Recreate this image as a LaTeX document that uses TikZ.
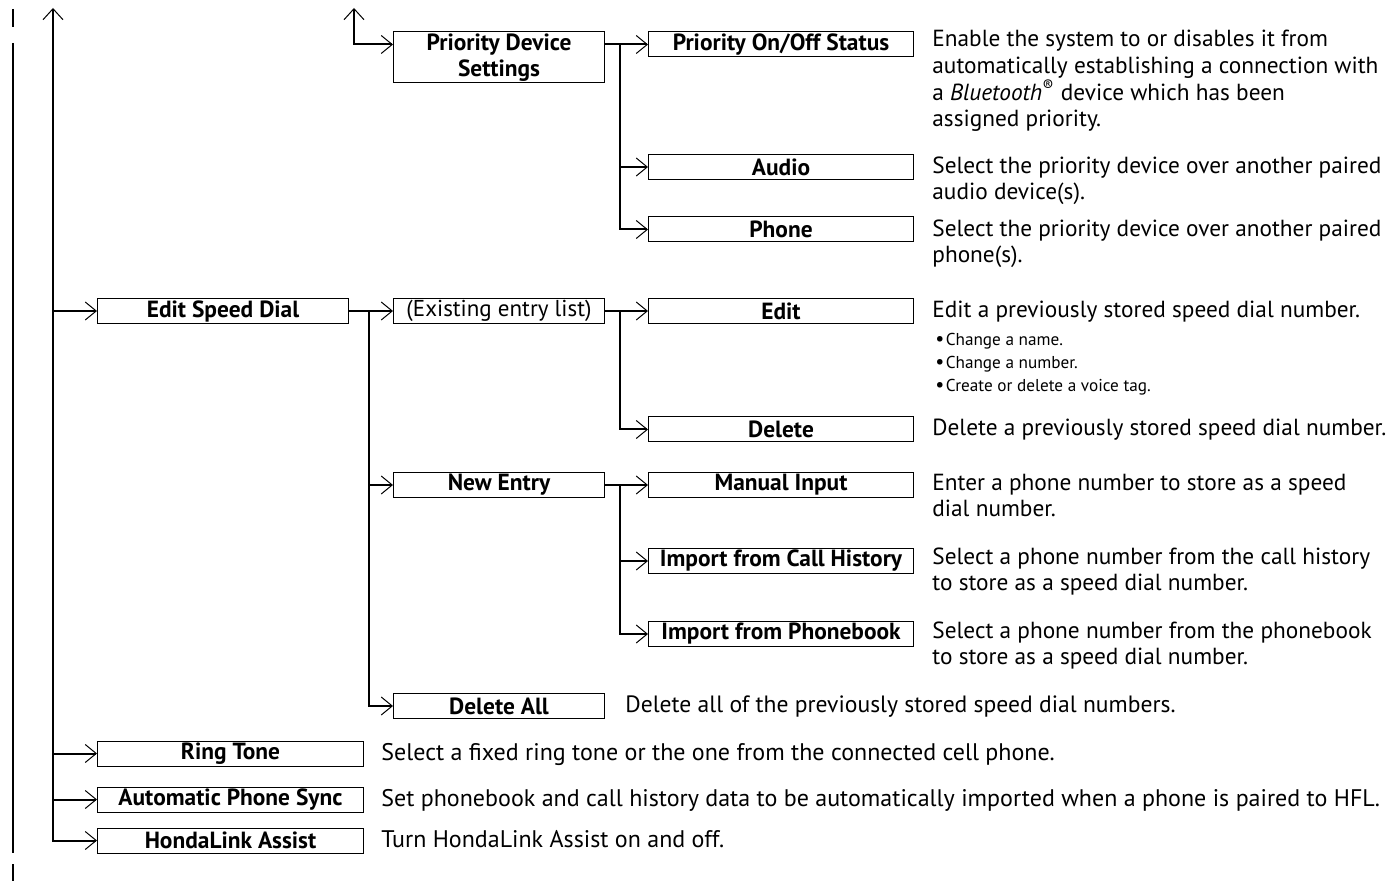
\documentclass[tikz,border=0pt]{standalone}
\usepackage{fontspec}
\setmainfont{PT Sans}
\usetikzlibrary{arrows.meta,positioning,calc}
\newcommand{\listdot}{\makebox[5.2pt][l]{\fontsize{10}{10}\selectfont\textbullet}}

\begin{document}
\begin{tikzpicture}[x=0.5pt,y=-0.5pt,
    link/.style={line width=1pt,-{Straight Barb[length=5.5pt,width=9pt,line width=0.5pt]}},
    twoway/.style={line width=1pt,{Straight Barb[length=5.5pt,width=10pt,line width=0.5pt]}-{Straight Barb[length=5.5pt,width=9pt,line width=0.5pt]}},
    menubox/.style={draw,line width=0.5pt,inner sep=0pt,minimum height=12.5pt,anchor=west,font=\bfseries\fontsize{11.7}{13.2}\selectfont},
    colone/.style={menubox,minimum width=133pt},
    coltwo/.style={menubox,minimum width=105.5pt},
    colthree/.style={menubox,minimum width=132.5pt},
    desc/.style={anchor=base west,align=left,inner sep=0pt,font=\fontsize{11.65}{13.35}\selectfont},
    widedesc/.style={desc,font=\fontsize{12}{13.35}\selectfont},
    bullets/.style={anchor=base west,align=left,inner sep=0pt,font=\fontsize{8.6}{11.5}\selectfont}]
    \useasboundingbox (0,0) rectangle (1387,881);
    % continuation bar on the left
    \draw[line width=1pt] (13,9) -- (13,27);
    \draw[line width=1pt] (13,43) -- (13,853);
    \draw[line width=1pt] (13,864) -- (13,881);
    % first level
    \node[colone,minimum width=125.5pt] (speeddial) at (97,311) {Edit Speed Dial};
    \node[colone] (ring) at (97,753.5) {Ring Tone};
    \node[colone] (autosync) at (97,799.5) {Automatic Phone Sync};
    \node[colone] (honda) at (97,840.5) {HondaLink Assist};
    % second level
    \node[coltwo,minimum height=25.5pt,align=center] (prio) at (393,57.5) {Priority Device\\Settings};
    \node[coltwo,font=\fontsize{11.5}{13}\selectfont] (existing) at (393,311) {(Existing entry list)};
    \node[coltwo] (newentry) at (393,485) {New Entry};
    \node[coltwo] (deleteall) at (393,706) {Delete All};
    % third level
    \node[colthree] (onoff) at (648,44.5) {Priority On/Off Status};
    \node[colthree] (audio) at (648,167) {Audio};
    \node[colthree] (phone) at (648,229.5) {Phone};
    \node[colthree] (edit) at (648,311) {Edit};
    \node[colthree] (delete) at (648,429.5) {Delete};
    \node[colthree] (manual) at (648,485) {Manual Input};
    \node[colthree] (callhist) at (648,561) {Import from Call History};
    \node[colthree] (phonebook) at (648,634) {Import from Phonebook};
    % bus coordinates
    \coordinate (top) at (53,8);
    \coordinate (prtop) at (354,8);
    \coordinate (pbus) at (620,44.5);
    \coordinate (sbus) at (369,311);
    \coordinate (ebus) at (620,311);
    \coordinate (nbus) at (620,485);
    % connectors
    \draw[twoway] (top) |- (honda.west);
    \draw[link] (top |- speeddial.west) -- (speeddial.west);
    \draw[link] (top |- ring.west) -- (ring.west);
    \draw[link] (top |- autosync.west) -- (autosync.west);
    \draw[twoway] (prtop) |- (prio.west |- onoff.west);
    \draw[link] (prio.east |- onoff.west) -- (onoff.west);
    \draw[link] (pbus) |- (audio.west);
    \draw[link] (pbus) |- (phone.west);
    \draw[link] (speeddial.east) -- (existing.west);
    \draw[link] (sbus) |- (newentry.west);
    \draw[link] (sbus) |- (deleteall.west);
    \draw[link] (existing.east) -- (edit.west);
    \draw[link] (ebus) |- (delete.west);
    \draw[link] (newentry.east) -- (manual.west);
    \draw[link] (nbus) |- (callhist.west);
    \draw[link] (nbus) |- (phonebook.west);
    % descriptions (base = last line)
    \node[desc] (onoffdesc) at (932,127) {Enable the system to or disables it from\\automatically establishing a connection with\\a \textit{Bluetooth}\textsuperscript{\textregistered} device which has been\\assigned priority.};
    \node[desc] (audiodesc) at (932,200) {Select the priority device over another paired\\audio device(s).};
    \node[desc] (phonedesc) at (932,263) {Select the priority device over another paired\\phone(s).};
    \node[desc] (editdesc) at (932,318) {Edit a previously stored speed dial number.};
    \node[bullets] (editlist) at (935,392) {\listdot Change a name.\\\listdot Change a number.\\\listdot Create or delete a voice tag.};
    \node[desc] (deletedesc) at (932,436) {Delete a previously stored speed dial number.};
    \node[desc] (manualdesc) at (932,517) {Enter a phone number to store as a speed\\dial number.};
    \node[desc] (callhistdesc) at (932,591) {Select a phone number from the call history\\to store as a speed dial number.};
    \node[desc] (phonebookdesc) at (932,665) {Select a phone number from the phonebook\\to store as a speed dial number.};
    \node[desc,font=\fontsize{11.8}{13.35}\selectfont] (deletealldesc) at (625,712) {Delete all of the previously stored speed dial numbers.};
    \node[widedesc] (ringdesc) at (381,760) {Select a fixed ring tone or the one from the connected cell phone.};
    \node[widedesc] (autosyncdesc) at (381,806) {Set phonebook and call history data to be automatically imported when a phone is paired to HFL.};
    \node[widedesc] (hondadesc) at (381,847) {Turn HondaLink Assist on and off.};
\end{tikzpicture}
\end{document}
